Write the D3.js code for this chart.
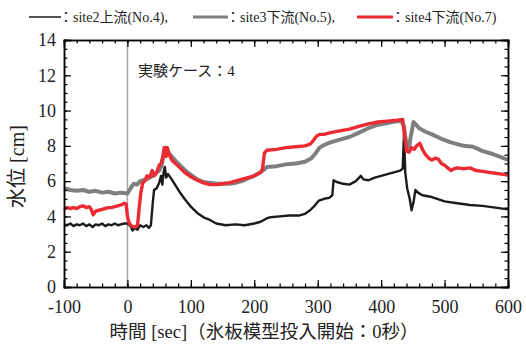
<!DOCTYPE html>
<html lang="ja">
<head>
<meta charset="UTF-8">
<title>水位</title>
<script src="https://d3js.org/d3.v7.min.js"></script>
<style>
    body { margin: 0; background: #fff; }
    svg { display: block; font-family: "Liberation Serif", "Noto Sans CJK JP", serif; }
</style>
</head>
<body>
<svg id="chart" width="526" height="345"></svg>
<script>
    // [time (sec), water level (cm)]
    const site2 = [[-100,3.55],[-95,3.5],[-90,3.6],[-85,3.45],[-80,3.55],[-75,3.5],[-70,3.6],[-65,3.45],[-60,3.55],[-55,3.4],
        [-50,3.55],[-45,3.5],[-40,3.6],[-35,3.45],[-30,3.55],[-25,3.5],[-20,3.6],[-15,3.5],[-10,3.55],[-5,3.6],[0,3.6],[5,3.45],
        [8,3.2],[12,3.35],[16,3.25],[20,3.5],[25,3.4],[30,3.5],[34,3.35],[37,3.5],[40,4.8],[42,5.5],[46,5.6],[50,5.9],[53,6.3],
        [55,5.8],[57,6.5],[59,6.8],[61,6.2],[64,6.4],[68,6.2],[75,5.8],[82,5.4],[90,5.0],[100,4.55],[110,4.2],[120,3.95],
        [130,3.8],[140,3.6],[155,3.5],[170,3.55],[185,3.5],[200,3.6],[210,3.7],[220,3.9],[225,3.95],[240,4.0],[255,4.05],
        [270,4.05],[280,4.15],[288,4.35],[295,4.6],[302,4.9],[310,5.0],[318,5.05],[323,5.2],[325,6.05],[330,5.95],[340,5.85],
        [350,5.8],[360,6.0],[368,6.3],[372,6.1],[380,6.05],[390,6.2],[400,6.3],[410,6.4],[420,6.5],[430,6.6],[434,6.7],
        [436,8.7],[438,6.5],[441,5.6],[445,5.0],[448,4.35],[451,4.8],[454,5.5],[458,5.35],[465,5.2],[480,5.1],[500,4.85],
        [520,4.75],[540,4.65],[560,4.6],[580,4.5],[600,4.4]];
    const site3 = [[-100,5.6],[-90,5.5],[-80,5.45],[-70,5.5],[-60,5.4],[-50,5.45],[-40,5.35],[-30,5.4],[-20,5.3],[-10,5.35],
        [0,5.3],[5,5.6],[10,5.85],[15,5.8],[20,6.0],[25,6.05],[30,6.1],[35,6.2],[40,6.3],[45,6.45],[50,6.6],[54,6.9],[57,7.5],
        [60,7.9],[63,7.7],[67,7.5],[72,7.3],[80,7.0],[90,6.65],[100,6.35],[110,6.1],[120,5.95],[130,5.9],[140,5.85],[150,5.85],
        [160,5.85],[170,5.9],[180,6.0],[190,6.15],[200,6.3],[210,6.5],[215,6.65],[220,6.8],[235,6.85],[250,6.95],[265,7.0],
        [280,7.1],[290,7.3],[297,7.6],[303,7.9],[310,8.05],[320,8.2],[335,8.35],[350,8.5],[365,8.75],[380,9.0],[395,9.2],
        [410,9.3],[425,9.4],[432,9.4],[436,9.1],[440,8.0],[443,7.7],[447,8.6],[451,9.35],[455,9.2],[460,9.0],[470,8.8],
        [480,8.65],[495,8.4],[510,8.2],[530,8.0],[545,7.95],[560,7.7],[575,7.55],[590,7.35],[600,7.2]];
    const site4 = [[-100,4.4],[-95,4.5],[-90,4.45],[-85,4.5],[-80,4.45],[-75,4.55],[-70,4.6],[-65,4.5],[-60,4.55],[-57,4.4],
        [-54,4.1],[-50,4.3],[-45,4.35],[-40,4.4],[-35,4.45],[-30,4.5],[-25,4.5],[-20,4.55],[-15,4.6],[-10,4.65],[-5,4.75],
        [-2,4.7],[0,4.0],[3,3.6],[7,3.45],[12,3.4],[16,3.5],[18,4.3],[21,5.3],[24,5.9],[27,6.0],[31,6.3],[35,6.2],[39,6.6],
        [42,6.3],[46,6.5],[50,6.9],[53,7.0],[56,7.4],[58,7.9],[61,7.4],[63,7.9],[66,7.5],[70,7.2],[80,6.85],[90,6.5],[100,6.25],
        [110,6.05],[120,5.9],[130,5.8],[140,5.8],[150,5.85],[160,5.9],[170,6.0],[180,6.1],[190,6.2],[200,6.3],[210,6.5],
        [213,6.7],[216,7.6],[220,7.75],[235,7.8],[250,7.9],[265,7.95],[280,8.0],[288,8.1],[293,8.3],[298,8.55],[303,8.65],
        [310,8.65],[320,8.75],[335,8.85],[350,8.95],[365,9.1],[380,9.25],[395,9.35],[410,9.4],[425,9.45],[434,9.5],[437,8.6],
        [440,7.7],[444,7.65],[448,7.9],[452,7.8],[456,8.0],[461,8.15],[465,7.8],[470,7.5],[475,7.3],[480,7.2],[485,7.3],
        [490,7.25],[495,7.0],[500,6.9],[505,6.75],[510,6.6],[515,6.7],[520,6.75],[530,6.7],[540,6.75],[550,6.6],[560,6.55],
        [570,6.5],[580,6.45],[590,6.4],[600,6.35]];

    const xTicks = [-100, 0, 100, 200, 300, 400, 500, 600];
    const yTicks = [0, 2, 4, 6, 8, 10, 12, 14];
    const legendLabels = ["：site2上流(No.4),", "：site3下流(No.5),", "：site4下流(No.7)"];

    const series = [
        { data: site2, color: "#1b1b1b", width: 2.4, legendWidth: 1.5 },
        { data: site3, color: "#7f7f81", width: 4, legendWidth: 3 },
        { data: site4, color: "#ec2a33", width: 3.4, legendWidth: 3 }
    ];

    const plotL = 64, plotR = 508, plotT = 40, plotB = 287;
    const svg = d3.select("#chart");

    const x = d3.scaleLinear().domain([-100, 600]).range([plotL, plotR]);
    const y = d3.scaleLinear().domain([0, 14]).range([plotB, plotT]);

    // start marker at t = 0
    svg.append("line")
        .attr("x1", x(0)).attr("x2", x(0))
        .attr("y1", plotT).attr("y2", plotB)
        .attr("stroke", "#a6a6a6").attr("stroke-width", 1.5);

    const line = d3.line().x(d => x(d[0])).y(d => y(d[1]));
    series.forEach(s => {
        svg.append("path")
            .datum(s.data)
            .attr("d", line)
            .attr("fill", "none")
            .attr("stroke", s.color)
            .attr("stroke-width", s.width)
            .attr("stroke-linejoin", "round");
    });

    // axes: inward ticks on all four sides
    const xMinor = d3.range(-100, 601, 20);
    const yMinor = d3.range(0, 14.01, 0.5);
    const plain = d => String(d);

    function styleAxis(g) {
        g.select(".domain").attr("stroke", "#000").attr("stroke-width", 1.5);
        g.selectAll(".tick line").attr("stroke", "#000").attr("stroke-width", 1.2);
        g.selectAll("text").attr("font-size", 18).attr("fill", "#222")
            .attr("font-family", "Liberation Serif, serif");
    }

    svg.append("g").attr("transform", `translate(0,${plotB})`)
        .call(d3.axisBottom(x).tickValues(xMinor).tickSize(-3.5).tickFormat(""))
        .call(styleAxis);
    svg.append("g").attr("transform", `translate(0,${plotB})`)
        .call(d3.axisBottom(x).tickValues(xTicks).tickSize(-7).tickPadding(13).tickFormat(plain))
        .call(styleAxis);
    svg.append("g").attr("transform", `translate(0,${plotT})`)
        .call(d3.axisTop(x).tickValues(xMinor).tickSize(-3.5).tickFormat(""))
        .call(styleAxis);
    svg.append("g").attr("transform", `translate(0,${plotT})`)
        .call(d3.axisTop(x).tickValues(xTicks).tickSize(-7).tickFormat(""))
        .call(styleAxis);

    svg.append("g").attr("transform", `translate(${plotL},0)`)
        .call(d3.axisLeft(y).tickValues(yMinor).tickSize(-3.5).tickFormat(""))
        .call(styleAxis);
    svg.append("g").attr("transform", `translate(${plotL},0)`)
        .call(d3.axisLeft(y).tickValues(yTicks).tickSize(-7).tickPadding(8).tickFormat(plain))
        .call(styleAxis);
    svg.append("g").attr("transform", `translate(${plotR},0)`)
        .call(d3.axisRight(y).tickValues(yMinor).tickSize(-3.5).tickFormat(""))
        .call(styleAxis);
    svg.append("g").attr("transform", `translate(${plotR},0)`)
        .call(d3.axisRight(y).tickValues(yTicks).tickSize(-7).tickFormat(""))
        .call(styleAxis);

    // axis titles
    svg.append("text")
        .attr("transform", `translate(24,${(plotT + plotB) / 2 + 3}) rotate(-90)`)
        .attr("text-anchor", "middle")
        .attr("font-size", 20).attr("fill", "#222")
        .text("水位 [cm]");

    svg.append("text")
        .attr("x", 264).attr("y", 338)
        .attr("text-anchor", "middle")
        .attr("font-size", 18.5).attr("fill", "#222")
        .text("時間 [sec]（氷板模型投入開始：0秒）");

    svg.append("text")
        .attr("x", 138).attr("y", 76)
        .attr("font-size", 15).attr("fill", "#222")
        .text("実験ケース：4");

    // legend
    const legendX = [29, 193, 357];
    const legendLen = [32, 35, 36];
    series.forEach((s, i) => {
        svg.append("line")
            .attr("x1", legendX[i]).attr("x2", legendX[i] + legendLen[i])
            .attr("y1", 17).attr("y2", 17)
            .attr("stroke", s.color).attr("stroke-width", s.legendWidth);
        svg.append("text")
            .attr("x", legendX[i] + legendLen[i] - 2).attr("y", 22)
            .attr("font-size", 14).attr("fill", "#222")
            .text(legendLabels[i]);
    });
</script>
</body>
</html>
